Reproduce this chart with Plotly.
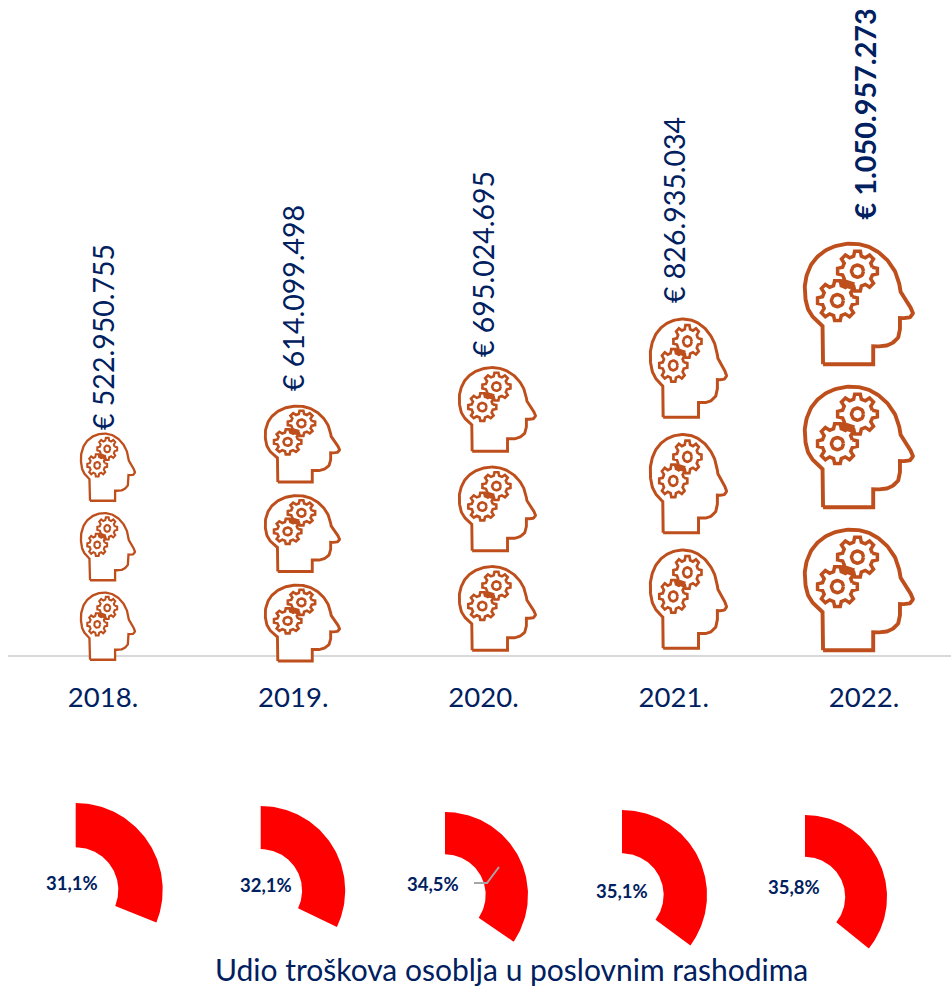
import numpy as np
import plotly.graph_objects as go

# ---------- data ----------
YEARS = ["2018.", "2019.", "2020.", "2021.", "2022."]
COSTS = [522950755, 614099498, 695024695, 826935034, 1050957273]
SHARES = [31.1, 32.1, 34.5, 35.1, 35.8]
TITLE = "Udio troškova osoblja u poslovnim rashodima"

# ---------- page layout (pixels) ----------
W, H = 951, 987
AX_LEFT, AXIS_Y = 8, 656
COL0, COL_STEP = 103, 190.25
Y_ZERO, PX_PER_UNIT = 622.0, 0.362e-6   # value scale of the stacks
TOP_NUDGE = [0, 5.3, -4, -5, 0.4]       # stack top relative to value scale
ICON_X = [(80, 136), (264, 341), (458, 537), (649, 728), (803, 915)]
ICON_H = [69, 78, 86, 101, 124]
ICON_PITCH = [79.5, 89.5, 99.5, 115.5, 143]
ICON_LW = [2.3, 2.9, 2.9, 3.0, 3.9]
LABEL_BOTTOM = [432, 393, 359, 305, 222]
LABEL_X = [103, 293, 483, 674, 864]
LABEL_SIZE = [28.5, 28.5, 28.5, 28.5, 28.8]
PIE_GEOM = [(75.7, 890, 87), (260.7, 890.5, 84.5), (445, 895, 83), (622, 895, 85), (805, 897, 82)]
PIE_HOLE = 0.49
PCT_POS = [(72, 883), (265.5, 885), (433, 884), (622, 891), (794, 887)]
NAVY = "#002060"
RUST = "#BE4F1C"


def xv(px):
    return (np.asarray(px, float) - COL0) / COL_STEP


def yv(py):
    return (Y_ZERO - np.asarray(py, float)) / PX_PER_UNIT


def catmull(pts, n=10):
    p = np.array([pts[0]] + list(pts) + [pts[-1]], float)
    out = []
    for i in range(1, len(p) - 2):
        for t in np.linspace(0, 1, n, endpoint=False):
            a = 2 * p[i] + (p[i + 1] - p[i - 1]) * t
            b = (2 * p[i - 1] - 5 * p[i] + 4 * p[i + 1] - p[i + 2]) * t * t
            c = (3 * p[i] - p[i - 1] - 3 * p[i + 1] + p[i + 2]) * t ** 3
            out.append(0.5 * (a + b + c))
    out.append(p[-2])
    return np.array(out)


# icon glyph, in its own drawing units (outer box x 40-375, y 38-408)
skull = catmull([(100, 290), (75, 268), (55, 238), (46, 195), (48, 150), (65, 105), (95, 72),
                 (135, 51), (185, 43), (235, 52), (280, 80), (312, 120), (327, 160), (332, 187)])
nose = catmull([(362, 234), (369, 248), (362, 261), (349, 265), (330, 265)], 6)
jaw = catmull([(330, 298), (325, 322), (305, 341), (280, 349), (250, 349)], 8)
HEAD = np.vstack([[(100, 403)], skull, nose, jaw, [(250, 403), (100, 403)]])


def gear(cx, cy, rot=0.0, ro=60, ri=46, teeth=8):
    pts = []
    for i in range(teeth):
        a = np.deg2rad(rot + i * 360 / teeth)
        for d, r in [(-14.5, ri), (-8, ro), (8, ro), (14.5, ri)]:
            t = a + np.deg2rad(d)
            pts.append((cx + r * np.cos(t), cy + r * np.sin(t)))
    pts.append(pts[0])
    return np.array(pts)


def ring(cx, cy, r=18, n=32):
    t = np.linspace(0, 2 * np.pi, n)
    return np.column_stack([cx + r * np.cos(t), cy + r * np.sin(t)])


GEARS = [gear(203, 125), ring(203, 125), gear(143, 213, 0), ring(143, 213)]
BLOB = np.array([(160, 160), (176, 167), (192, 170)])


def place(glyph, box_x, top, h):
    gx = box_x[0] + (glyph[:, 0] - 40) / 335 * (box_x[1] - box_x[0])
    gy = top + (glyph[:, 1] - 38) / 370 * h
    return gx, gy


fig = go.Figure()

for c, value in enumerate(COSTS):
    top0 = Y_ZERO - PX_PER_UNIT * value + TOP_NUDGE[c]
    hx, hy, gx, gy, bx, by = [], [], [], [], [], []
    for k in range(3):
        top = top0 + k * ICON_PITCH[c]
        x_, y_ = place(HEAD, ICON_X[c], top, ICON_H[c])
        hx += list(xv(x_)) + [None]
        hy += list(yv(y_)) + [None]
        for g in GEARS:
            x_, y_ = place(g, ICON_X[c], top, ICON_H[c])
            gx += list(xv(x_)) + [None]
            gy += list(yv(y_)) + [None]
        x_, y_ = place(BLOB, ICON_X[c], top, ICON_H[c])
        bx += list(xv(x_)) + [None]
        by += list(yv(y_)) + [None]
    lw = ICON_LW[c]
    fig.add_trace(go.Scatter(x=hx, y=hy, mode="lines", fill="toself", fillcolor="white",
                             line=dict(color=RUST, width=lw), hoverinfo="skip", showlegend=False))
    fig.add_trace(go.Scatter(x=gx, y=gy, mode="lines", line=dict(color=RUST, width=lw * 0.9),
                             hoverinfo="skip", showlegend=False))
    fig.add_trace(go.Scatter(x=bx, y=by, mode="lines", line=dict(color=RUST, width=lw * 2),
                             hoverinfo="skip", showlegend=False))
    txt = "€ " + f"{value:,}".replace(",", ".")
    if c == 4:
        txt = f"<b>{txt}</b>"
    fig.add_annotation(x=float(xv(LABEL_X[c])), y=float(yv(LABEL_BOTTOM[c])), text=txt, textangle=-90,
                       showarrow=False, xanchor="center", yanchor="bottom",
                       font=dict(family="Lato", size=LABEL_SIZE[c], color=NAVY))

# gauges: clockwise from twelve o'clock, sweep = share of a full turn
for share, (cx, cy, r) in zip(SHARES, PIE_GEOM):
    t = np.linspace(0, share / 100 * 2 * np.pi, 90)
    ox, oy = cx + r * np.sin(t), cy - r * np.cos(t)
    ix, iy = cx + r * PIE_HOLE * np.sin(t[::-1]), cy - r * PIE_HOLE * np.cos(t[::-1])
    fig.add_trace(go.Scatter(x=xv(np.r_[ox, ix, ox[0]]), y=yv(np.r_[oy, iy, oy[0]]),
                             mode="lines", fill="toself", fillcolor="#FF0000",
                             line=dict(width=0, color="#FF0000"), hoverinfo="skip", showlegend=False))

for share, (px, py) in zip(SHARES, PCT_POS):
    fig.add_annotation(x=float(xv(px)), y=float(yv(py)),
                       text="<b>" + f"{share:.1f}".replace(".", ",") + "%</b>",
                       showarrow=False, font=dict(family="Lato", size=18.5, color=NAVY))

fig.add_annotation(x=float(xv(511.5)), y=float(yv(969)), text=TITLE, showarrow=False,
                   borderpad=0, font=dict(family="Lato", size=30, color=NAVY))

# grey leader line left on the 2020 gauge
fig.add_trace(go.Scatter(x=xv([474, 487, 499]), y=yv([883, 883, 867]), mode="lines",
                         line=dict(color="#A6A6A6", width=2), hoverinfo="skip", showlegend=False))

fig.update_layout(
    width=W, height=H, margin=dict(l=0, r=0, t=0, b=0),
    paper_bgcolor="white", plot_bgcolor="white",
    xaxis=dict(domain=[AX_LEFT / W, 1], range=[float(xv(AX_LEFT)), float(xv(W))], anchor="free",
               position=1 - AXIS_Y / H, tickmode="array", tickvals=list(range(5)), ticktext=YEARS,
               showgrid=False, zeroline=False, showline=True, linecolor="#D9D9D9", linewidth=2,
               ticks="outside", ticklen=17, tickcolor="rgba(0,0,0,0)",
               tickfont=dict(family="Lato", size=27.5, color=NAVY), layer="below traces"),
    yaxis=dict(range=[float(yv(H)), float(yv(0))], visible=False, domain=[0, 1]),
)

fig.write_html("out.html", config={"displayModeBar": False},
               post_script="document.body.style.margin='0';document.body.style.overflow='hidden';")
